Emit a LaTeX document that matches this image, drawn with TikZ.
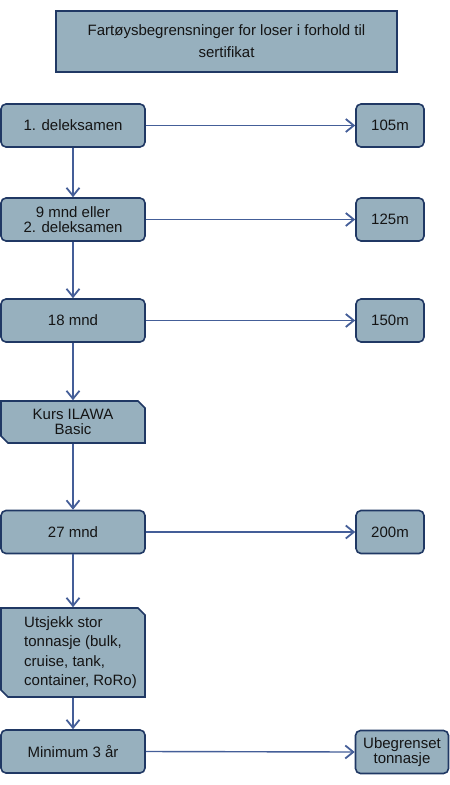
\documentclass[tikz,border=0pt]{standalone}
\usepackage{fontspec}
\setmainfont{Liberation Sans}
\usetikzlibrary{arrows.meta, shapes.misc}
\definecolor{boxcol}{RGB}{151, 176, 190}
\definecolor{edgecol}{RGB}{32, 56, 100}
\definecolor{arrowcol}{RGB}{68, 94, 152}
\definecolor{txtcol}{RGB}{20, 20, 20}

\begin{document}
\begin{tikzpicture}[
    x=1pt, y=-1pt,
    font=\fontsize{15}{15}\selectfont,
    flow/.style={-{Straight Barb[length=8pt, width=13pt, line width=1.8pt]}, draw=arrowcol, line width=1.4pt},
    box/.style={draw=edgecol, line width=1.6pt, fill=boxcol, text=txtcol, align=center, inner sep=2pt},
    stepbox/.style={box, rounded corners=5pt, minimum width=144pt, minimum height=43pt},
    endbox/.style={box, rounded corners=5pt, minimum width=68pt, minimum height=43pt},
    snipbox/.style={box, chamfered rectangle, chamfered rectangle corners={north east, south west},
        chamfered rectangle xsep=3.5pt, chamfered rectangle ysep=3.5pt, minimum width=144pt},
    titlebox/.style={box, minimum width=341pt, minimum height=61pt, font=\fontsize{15}{22}\selectfont}
]
\useasboundingbox (0,0) rectangle (450,785);

% Title
\node[titlebox] (title) at (226.5,41.5) {Fartøysbegrensninger for loser i forhold til\\sertifikat};

% Left column: requirements
\node[stepbox] (exam1)   at (73,125.5) {1. deleksamen};
\node[stepbox] (exam2)   at (73,219.5) {9 mnd eller\\2. deleksamen};
\node[stepbox] (month18) at (73,320.5) {18 mnd};
\node[snipbox, minimum height=42pt] (ilawa) at (73,422) {Kurs ILAWA\\Basic};
\node[stepbox] (month27) at (73,532) {27 mnd};
\node[snipbox, minimum height=81pt, font=\fontsize{15}{19.5}\selectfont] (checkout) at (73,652.5)
    {\begin{tabular}{@{\hspace{15pt}}l@{}}Utsjekk stor\\tonnasje (bulk,\\cruise, tank,\\container, RoRo)\end{tabular}};
\node[stepbox] (year3)   at (73,751.5) {Minimum 3 år};

% Right column: vessel limits
\node[endbox] (len105) at (390,125.5) {105m};
\node[endbox] (len125) at (390,219.5) {125m};
\node[endbox] (len150) at (390,320.5) {150m};
\node[endbox] (len200) at (390,532) {200m};
\node[endbox, minimum width=93pt] (unlimited) at (402,752) {Ubegrenset\\tonnasje};

% Progression
\foreach \a/\b in {exam1/exam2, exam2/month18, month18/ilawa, ilawa/month27, month27/checkout, checkout/year3}
    \draw[flow] (\a.south) -- (\b.north);

% Limits
\foreach \a/\b in {exam1/len105, exam2/len125, month18/len150, month27/len200, year3/unlimited}
    \draw[flow] (\a.east) -- (\b.west);

\end{tikzpicture}
\end{document}
